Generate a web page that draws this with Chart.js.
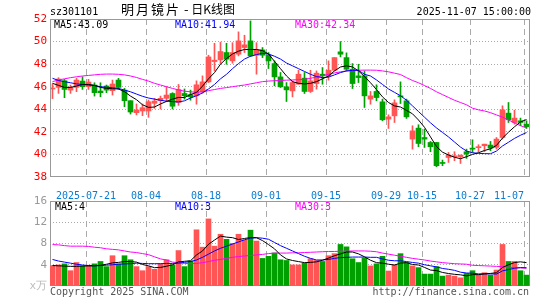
<!DOCTYPE html>
<html>
<head>
<meta charset="utf-8">
<script src="https://cdn.jsdelivr.net/npm/chart.js@4.4.1/dist/chart.umd.min.js"></script>
<style>
  body { margin: 0; background: #fff; }
  #wrap { position: relative; width: 545px; height: 300px; overflow: hidden;
          font-family: "DejaVu Sans Mono", monospace; font-size: 10px; line-height: 10px; }
  canvas { position: absolute; left: 0; }
  .t { position: absolute; white-space: pre; z-index: 2; }
  .cjk { font-family: "Noto Sans CJK SC", sans-serif; line-height: 13px; }
</style>
</head>
<body>
<div id="wrap">
  <canvas id="price" width="545" height="200" style="top:0"></canvas>
  <canvas id="vol" width="545" height="105" style="top:195px"></canvas>

  <div class="t" style="left:50px;top:7px">sz301101</div>
  <div class="t cjk" style="left:121px;top:2px;font-size:13px"><span style="letter-spacing:2px">明月镜片</span> - <span style="font-size:12px">日K线图</span></div>
  <div class="t" style="right:14px;top:7px">2025-11-07 15:00:00</div>

  <div class="t" id="pMa5" style="left:54px;top:19.5px;color:#000"></div>
  <div class="t" id="pMa10" style="left:175px;top:19.5px;color:#0000ff"></div>
  <div class="t" id="pMa30" style="left:295px;top:19.5px;color:#ff00ff"></div>

  <div class="t" id="vMa5" style="left:55px;top:201.5px;color:#000"></div>
  <div class="t" id="vMa10" style="left:175px;top:201.5px;color:#0000ff"></div>
  <div class="t" id="vMa30" style="left:295px;top:201.5px;color:#ff00ff"></div>

  <div class="t" style="left:50px;top:287px;color:#555">Copyright 2025 SINA.COM</div>
  <div class="t" style="right:16px;top:287px;color:#555">http://finance.sina.com.cn</div>
</div>

<script>
// Daily K-line, 80 sessions 2025-07-11 .. 2025-11-07.
const dateLabels = ["2025-07-21", "08-04", "08-18", "09-01", "09-15", "09-29", "10-15", "10-27", "11-07"];
const dateIdx = [6, 16, 26, 36, 46, 56, 62, 70, 79];

const opens = [
  45.8, 45.94, 46.53, 45.7, 45.94, 46.5, 46.0, 46.15, 45.62, 46.06,
  45.65, 46.59, 45.7, 44.76, 43.7, 43.85, 43.85, 44.53, 44.76, 44.97,
  45.4, 44.6, 45.4, 45.3, 45.19, 45.54, 46.43, 48.23, 48.38, 49.03,
  48.29, 48.88, 49.47, 50.06, 48.79, 49.26, 48.79, 48.05, 46.87, 45.99,
  45.63, 46.22, 46.76, 45.58, 46.28, 47.11, 46.96, 47.46, 49.09, 48.58,
  47.55, 46.96, 46.96, 44.9, 45.58, 44.66, 43.13, 43.42, 45.19, 44.75,
  41.36, 42.33, 41.5, 41.06, 41.06, 39.29, 39.73, 39.79, 39.79, 40.24,
  40.56, 40.6, 40.77, 40.83, 40.62, 41.5, 43.66, 42.83, 42.98, 42.68
];
const highs = [
  46.25, 46.8, 46.65, 46.15, 46.74, 46.88, 46.65, 46.35, 46.35, 46.15,
  46.59, 46.74, 45.85, 44.76, 44.47, 44.47, 44.82, 44.97, 45.17, 46.0,
  45.47, 46.2, 45.8, 45.7, 46.52, 46.96, 48.79, 49.85, 49.95, 49.85,
  49.9, 50.86, 50.56, 51.83, 49.9, 49.47, 49.03, 48.29, 47.26, 46.37,
  46.52, 47.46, 47.26, 47.46, 47.4, 47.7, 48.29, 48.58, 50.0, 49.0,
  48.05, 47.99, 47.4, 45.58, 46.17, 44.9, 43.51, 44.84, 46.43, 44.9,
  42.54, 42.63, 42.24, 41.15, 41.06, 39.5, 40.18, 40.24, 39.94, 40.47,
  41.3, 40.86, 40.91, 41.15, 41.5, 44.31, 44.6, 43.92, 43.22, 42.98
];
const lows = [
  44.95, 45.41, 45.03, 45.41, 45.56, 45.76, 45.76, 45.17, 45.11, 45.47,
  45.26, 45.76, 44.23, 43.58, 43.5, 43.43, 43.29, 44.08, 44.02, 44.67,
  44.02, 44.35, 44.9, 44.8, 44.45, 45.43, 46.37, 47.4, 48.05, 47.99,
  48.08, 48.73, 49.03, 48.67, 47.11, 48.58, 47.61, 46.08, 45.93, 44.69,
  45.1, 46.22, 45.4, 45.49, 45.78, 46.22, 46.58, 47.4, 48.64, 47.4,
  45.84, 46.37, 44.16, 44.45, 44.75, 42.98, 42.3, 42.83, 44.51, 43.19,
  40.47, 40.68, 40.62, 40.24, 38.91, 39.0, 39.29, 39.44, 39.2, 39.65,
  40.18, 40.24, 40.24, 40.33, 40.47, 41.36, 42.83, 42.68, 42.54, 42.3
];
const closes = [
  45.85, 46.68, 45.76, 45.94, 46.59, 46.0, 46.41, 45.47, 45.47, 45.7,
  46.24, 45.94, 44.76, 43.76, 43.94, 44.14, 44.67, 44.73, 44.97, 45.26,
  44.27, 45.75, 45.2, 45.1, 46.17, 46.43, 48.64, 48.35, 49.12, 48.44,
  49.03, 50.06, 49.71, 48.73, 49.26, 48.79, 48.29, 46.87, 45.99, 45.72,
  46.37, 47.11, 45.58, 46.52, 47.2, 46.96, 47.46, 48.58, 48.88, 47.55,
  46.28, 46.81, 45.19, 45.19, 45.04, 43.07, 43.33, 44.57, 45.1, 43.33,
  42.09, 40.97, 41.36, 40.68, 39.0, 39.2, 39.94, 39.88, 39.94, 40.03,
  40.47, 40.62, 40.91, 40.56, 41.36, 43.95, 43.07, 43.22, 42.83, 42.45
];
const ma5 = [
  46.3, 46.12, 45.94, 45.94, 46.06, 46.2, 46.2, 46.12, 45.94, 45.85,
  45.82, 45.8, 45.56, 45.17, 44.85, 44.4, 44.17, 44.2, 44.47, 44.7,
  44.9, 45.05, 45.04, 45.3, 45.5, 46.05, 46.7, 47.25, 48.0, 48.5,
  48.9, 49.15, 49.3, 49.3, 49.3, 49.2, 48.9, 48.25, 47.6, 46.95,
  46.45, 46.3, 46.25, 46.3, 46.45, 46.7, 46.95, 47.4, 47.75, 47.85,
  47.75, 47.4, 46.9, 46.35, 45.75, 45.1, 44.6, 44.3, 44.2, 43.9,
  43.6, 43.05, 42.4, 41.55, 40.7, 40.2, 39.95, 39.75, 39.62, 39.8,
  40.0, 40.15, 40.35, 40.5, 40.8, 41.45, 41.97, 42.45, 42.88, 43.09
];
const ma10 = [
  46.75, 46.55, 46.45, 46.35, 46.25, 46.2, 46.15, 46.1, 46.0, 45.95,
  45.9, 45.85, 45.7, 45.55, 45.35, 45.15, 45.0, 44.9, 44.8, 44.72,
  44.68, 44.65, 44.75, 45.0, 45.2, 45.45, 45.8, 46.2, 46.7, 47.1,
  47.6, 48.05, 48.45, 48.7, 48.85, 48.95, 48.9, 48.7, 48.45, 48.1,
  47.85, 47.6, 47.35, 47.1, 46.9, 46.8, 46.85, 47.05, 47.25, 47.4,
  47.45, 47.45, 47.1, 46.95, 46.6, 46.2, 45.8, 45.5, 45.2, 44.8,
  44.3, 43.8, 43.3, 42.8, 42.35, 41.95, 41.55, 41.1, 40.65, 40.3,
  40.15, 40.1, 40.07, 40.06, 40.3, 40.75, 41.08, 41.42, 41.7, 41.94
];
const ma30 = [
  46.45, 46.6, 46.7, 46.8, 46.88, 46.95, 47.0, 47.05, 47.1, 47.12,
  47.12, 47.1, 47.05, 46.95, 46.82, 46.65, 46.5, 46.3, 46.15, 46.0,
  45.85, 45.72, 45.6, 45.55, 45.5, 45.55, 45.65, 45.75, 45.85, 45.92,
  46.0, 46.08, 46.15, 46.25, 46.35, 46.45, 46.5, 46.53, 46.56, 46.58,
  46.6, 46.62, 46.66, 46.75, 46.85, 46.98, 47.1, 47.22, 47.32, 47.4,
  47.44, 47.46, 47.47, 47.47, 47.46, 47.4, 47.32, 47.2, 47.08, 46.8,
  46.55, 46.35, 46.1, 45.85, 45.55, 45.3, 45.05, 44.8, 44.6, 44.4,
  44.1, 43.95, 43.85, 43.7, 43.5, 43.3, 43.05, 42.8, 42.55, 42.34
];

// volume, in 万 (10k) shares
const volumes = [
  3.85, 3.97, 4.17, 2.88, 4.42, 3.78, 3.91, 4.17, 4.62, 3.65,
  5.7, 4.17, 5.7, 4.94, 3.65, 2.88, 3.65, 3.14, 4.17, 4.94,
  3.97, 6.67, 3.65, 4.7, 10.58, 7.31, 12.63, 7.5, 9.74, 8.78,
  8.01, 9.74, 8.65, 10.51, 8.46, 5.19, 5.58, 6.22, 4.94, 4.81,
  3.97, 3.97, 4.29, 5.13, 4.81, 4.62, 5.7, 6.09, 7.82, 7.37,
  5.13, 4.42, 5.26, 3.78, 4.17, 5.58, 2.82, 3.97, 6.09, 4.42,
  3.78, 3.46, 2.24, 2.24, 3.65, 1.86, 2.05, 1.86, 1.54, 2.37,
  2.88, 2.05, 2.5, 2.05, 3.01, 7.82, 4.62, 4.62, 2.88, 2.05
];
const volMa5 = [
  3.85, 3.8, 3.75, 3.7, 3.7, 3.75, 3.78, 3.8, 3.9, 4.1,
  4.35, 4.45, 4.6, 4.6, 4.5, 4.05, 3.8, 3.45, 3.5, 3.72,
  4.0, 4.55, 4.65, 4.75, 5.85, 6.6, 7.85, 8.65, 9.4, 9.2,
  9.1, 8.75, 8.95, 9.12, 9.08, 8.55, 7.8, 7.0, 5.85, 5.1,
  4.8, 4.6, 4.4, 4.45, 4.55, 4.85, 5.25, 5.7, 6.05, 6.4,
  6.4, 6.05, 5.5, 4.85, 4.4, 4.3, 4.1, 3.95, 4.3, 4.4,
  4.05, 3.95, 3.5, 3.0, 2.9, 2.55, 2.35, 2.2, 2.1, 1.92,
  2.14, 2.14, 2.27, 2.37, 2.5, 3.49, 4.0, 4.42, 4.55, 4.4
];
const volMa10 = [
  5.0, 4.7, 4.5, 4.3, 4.1, 3.95, 3.85, 3.8, 3.85, 3.92,
  4.0, 4.1, 4.15, 4.2, 4.3, 4.25, 4.2, 4.2, 4.2, 4.25,
  4.25, 4.3, 4.45, 4.6, 4.9, 5.4, 6.0, 6.6, 7.1, 7.5,
  7.9, 8.3, 8.7, 9.0, 9.1, 9.0, 8.8, 8.2, 7.6, 7.1,
  6.6, 6.1, 5.6, 5.2, 4.9, 4.9, 5.0, 5.2, 5.35, 5.4,
  5.45, 5.45, 5.45, 5.4, 5.4, 5.1, 4.85, 4.75, 4.75, 4.6,
  4.43, 4.3, 4.0, 3.8, 3.6, 3.3, 3.15, 2.95, 2.6, 2.45,
  2.4, 2.28, 2.3, 2.28, 2.25, 2.85, 3.1, 3.35, 3.47, 3.45
];
const volMa30 = [
  7.8, 7.75, 7.6, 7.5, 7.5, 7.5, 7.45, 7.3, 7.2, 7.0,
  6.9, 6.8, 6.6, 6.4, 6.3, 6.1, 5.9, 5.5, 5.1, 4.9,
  4.5, 4.4, 4.25, 4.2, 4.25, 4.4, 4.6, 4.85, 5.0, 5.2,
  5.4, 5.55, 5.65, 5.75, 5.85, 5.95, 6.1, 6.2, 6.2, 6.2,
  6.25, 6.25, 6.3, 6.35, 6.4, 6.45, 6.5, 6.5, 6.55, 6.55,
  6.6, 6.6, 6.6, 6.55, 6.45, 6.2, 6.0, 5.8, 5.6, 5.4,
  5.2, 5.05, 4.9, 4.7, 4.55, 4.4, 4.3, 4.2, 4.15, 4.1,
  3.9, 3.85, 3.8, 3.75, 3.7, 3.65, 3.55, 3.45, 3.4, 3.33
];

const UP = "#ff5555", DOWN = "#00a000";
const GRID = "#aaaaaa", FRAME = "#999999";
const MONO = "DejaVu Sans Mono";
const DAYS = closes.length;              // one 6-px slot per session
const PLOT_LEFT = 50, PLOT_RIGHT = 15;
const SLOT_PX = (545 - PLOT_LEFT - PLOT_RIGHT) / DAYS;
const slot = (i) => i + 2.5 / SLOT_PX;   // candle centre inside its slot

const candleColor = closes.map((c, i) => (c >= opens[i] ? UP : DOWN));
const pts = (arr) => arr.map((v, i) => ({ x: slot(i), y: v }));

document.getElementById("pMa5").textContent = "MA5:" + ma5[DAYS - 1].toFixed(2);
document.getElementById("pMa10").textContent = "MA10:" + ma10[DAYS - 1].toFixed(2);
document.getElementById("pMa30").textContent = "MA30:" + ma30[DAYS - 1].toFixed(2);
document.getElementById("vMa5").textContent = "MA5:" + volMa5[DAYS - 1].toFixed(0);
document.getElementById("vMa10").textContent = "MA10:" + volMa10[DAYS - 1].toFixed(0);
document.getElementById("vMa30").textContent = "MA30:" + volMa30[DAYS - 1].toFixed(0);

// the box round each panel; drawn under the bars in the volume panel
function framePlugin(hook) {
  return {
    id: "frame",
    [hook](chart) {
      const { ctx, chartArea: a } = chart;
      ctx.save();
      ctx.strokeStyle = FRAME;
      ctx.lineWidth = 1;
      ctx.strokeRect(a.left + 0.5, a.top + 0.5, a.right - a.left - 1, a.bottom - a.top - 1);
      ctx.restore();
    },
  };
}

function maLine(data, color) {
  return { type: "line", data: pts(data), borderColor: color, borderWidth: 1,
           pointRadius: 0, tension: 0, order: 0, xAxisID: "x" };
}

// dashed date grid lines, no labels
function dateGridAxis() {
  return {
    type: "linear", min: 0, max: DAYS, position: "bottom", offset: false,
    grid: { color: GRID, drawTicks: false, offset: false },
    border: { display: false, dash: [6, 4] },
    ticks: { display: false },
    afterBuildTicks: (s) => { s.ticks = dateIdx.map((v) => ({ value: v })); },
    afterFit: (s) => { s.height = 0; s.paddingLeft = 0; s.paddingRight = 0; },
  };
}

function yAxis(extra) {
  return Object.assign({
    position: "left",
    grid: { drawTicks: false },
    border: { display: false, dash: [1, 2] },
    afterFit: (s) => { s.width = PLOT_LEFT; s.paddingTop = 0; s.paddingBottom = 0; },
  }, extra);
}

// last date label is right-aligned on its grid line
const measure = document.createElement("canvas").getContext("2d");
measure.font = "10px " + MONO;
const lastShift = measure.measureText(dateLabels[dateLabels.length - 1]).width / 2 / SLOT_PX;

new Chart(document.getElementById("price"), {
  type: "bar",
  data: {
    datasets: [
      maLine(ma5, "#000000"),
      maLine(ma10, "#0000ff"),
      maLine(ma30, "#ff00ff"),
      {
        data: closes.map((c, i) => ({ x: slot(i), y: [Math.min(opens[i], c), Math.max(opens[i], c)] })),
        backgroundColor: candleColor, barThickness: 5, minBarLength: 1, grouped: false, order: 1, xAxisID: "x",
      },
      {
        data: highs.map((h, i) => ({ x: slot(i), y: [lows[i], h] })),
        backgroundColor: candleColor, barThickness: 1, grouped: false, order: 2, xAxisID: "x",
      },
    ],
  },
  options: {
    responsive: false, animation: false, devicePixelRatio: 1,
    layout: { padding: { left: 0, right: PLOT_RIGHT, top: 19, bottom: 0 } },
    plugins: { legend: { display: false }, tooltip: { enabled: false } },
    scales: {
      x: dateGridAxis(),
      xl: {
        type: "linear", min: 0, max: DAYS, position: "bottom", offset: false,
        grid: { display: false }, border: { display: false },
        ticks: {
          color: "#0a7bd0", font: { family: MONO, size: 10 }, padding: 5,
          maxRotation: 0, autoSkip: false,
          callback: (v, i) => dateLabels[i],
        },
        afterBuildTicks: (s) => {
          s.ticks = dateIdx.map((v, k) => ({ value: k === dateIdx.length - 1 ? v - lastShift : v }));
        },
        afterFit: (s) => { s.height = 23; s.paddingLeft = 0; s.paddingRight = 0; },
      },
      y: yAxis({
        min: 38, max: 52,
        grid: { drawTicks: false, color: (c) => (c.tick && (c.tick.value === 38 || c.tick.value === 52) ? "rgba(0,0,0,0)" : GRID) },
        ticks: { stepSize: 2, color: "#ff0000", padding: 3, font: { family: MONO, size: 11 } },
      }),
    },
  },
  plugins: [framePlugin("afterDraw")],
});

new Chart(document.getElementById("vol"), {
  type: "bar",
  data: {
    datasets: [
      maLine(volMa5, "#000000"),
      maLine(volMa10, "#0000ff"),
      maLine(volMa30, "#ff00ff"),
      {
        data: volumes.map((v, i) => ({ x: slot(i), y: v })),
        backgroundColor: candleColor, barThickness: 5, grouped: false, order: 1, xAxisID: "x",
      },
    ],
  },
  options: {
    responsive: false, animation: false, devicePixelRatio: 1,
    layout: { padding: { left: 0, right: PLOT_RIGHT, top: 6, bottom: 14 } },
    plugins: { legend: { display: false }, tooltip: { enabled: false } },
    scales: {
      x: dateGridAxis(),
      y: yAxis({
        min: 0, max: 16,
        grid: { drawTicks: false, color: (c) => (c.tick && (c.tick.value === 0 || c.tick.value === 16) ? "rgba(0,0,0,0)" : GRID) },
        ticks: {
          stepSize: 4, padding: 3, font: { family: MONO, size: 11 },
          color: (c) => (c.tick && c.tick.value === 0 ? "#bbbbbb" : "#999999"),
          callback: (v) => (v === 0 ? "x万" : v),
        },
      }),
    },
  },
  plugins: [framePlugin("beforeDatasetsDraw")],
});
</script>
</body>
</html>
